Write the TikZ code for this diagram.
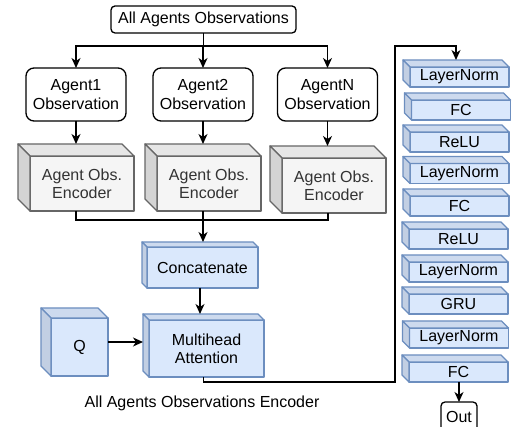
\documentclass[tikz,border=0pt]{standalone}
\usepackage{fontspec}
\setmainfont{Liberation Sans}
\usetikzlibrary{arrows.meta}

\definecolor{greyfill}{HTML}{F5F5F5}
\definecolor{greytop}{HTML}{E6E6E6}
\definecolor{greyside}{HTML}{D4D4D4}
\definecolor{greyline}{HTML}{666666}
\definecolor{greytext}{HTML}{333333}
\definecolor{bluefill}{HTML}{DAE8FC}
\definecolor{bluetop}{HTML}{CDDAEE}
\definecolor{blueside}{HTML}{C2CFE3}
\definecolor{blueline}{HTML}{6C8EBF}

\tikzset{
  every node/.style={font=\fontsize{16}{18.4}\selectfont, align=center,
    inner sep=0pt, outer sep=0pt},
  facewire/.style={line width=1.3pt, line join=round},
  obsbox/.style={draw=black, line width=1.3pt, rounded corners=8pt,
    minimum width=100pt, minimum height=53pt},
  encface/.style={draw=greyline, fill=greyfill, text=greytext, facewire,
    minimum width=104pt, minimum height=55pt},
  blueface/.style={draw=blueline, fill=bluefill, facewire},
  layerbox/.style={blueface, minimum width=99pt, minimum height=20pt},
  wire/.style={line width=1.3pt},
  arr/.style={wire, -{Stealth[length=10pt,width=9pt,inset=3pt]}}
}

% top and left faces of a box whose front face is node #1, depth #2
\newcommand\cubeside[5]{%
  \filldraw[fill=#3, draw=#5, facewire] (#1.north west) -- ++(-#2,-#2)
    -- ([shift={(-#2,-#2)}]#1.north east) -- (#1.north east) -- cycle;
  \filldraw[fill=#4, draw=#5, facewire] (#1.north west) -- ++(-#2,-#2)
    -- ([shift={(-#2,-#2)}]#1.south west) -- (#1.south west) -- cycle;
  \coordinate (#1-top) at ([shift={(-#2/2,-#2)}]#1.north);
  \coordinate (#1-bottom) at ([shift={(-#2/2,0)}]#1.south);
  \coordinate (#1-left) at ([shift={(-#2,-#2/2)}]#1.west);
  \coordinate (#1-right) at ([shift={(0,-#2/2)}]#1.east);
}
\newcommand\greycube[2]{\cubeside{#1}{#2}{greytop}{greyside}{greyline}}
\newcommand\bluecube[2]{\cubeside{#1}{#2}{bluetop}{blueside}{blueline}}

\begin{document}
\begin{tikzpicture}[x=1pt, y=-1pt]
\useasboundingbox (0,0) rectangle (514,427);
\clip (0,0) rectangle (514,427);

% observation inputs
\node[draw=black, line width=1.3pt, rounded corners=4pt,
  minimum width=185pt, minimum height=27pt] (all) at (203.5,19.5)
  {All Agents Observations};
\node[obsbox] (a1) at (76,94.5) {Agent1\\Observation};
\node[obsbox] (a2) at (203,94.5) {Agent2\\Observation};
\node[obsbox] (aN) at (327.5,94.5) {AgentN\\Observation};

% per-agent encoders
\node[encface] (enc1) at (82,183.5) {Agent Obs.\\Encoder};
\greycube{enc1}{12}
\node[encface] (enc2) at (209,183.5) {Agent Obs.\\Encoder};
\greycube{enc2}{12}
\node[encface] (encN) at (334,185.5) {Agent Obs.\\Encoder};
\greycube{encN}{12}

% attention block
\node[blueface, minimum width=111pt, minimum height=41pt] (concat)
  at (202.5,267.5) {Concatenate};
\bluecube{concat}{5}
\node[blueface, minimum width=115pt, minimum height=57pt] (mha)
  at (206.5,348.5) {Multihead\\Attention};
\bluecube{mha}{6}
\node[blueface, minimum width=57pt, minimum height=58pt] (qbox)
  at (79.5,347) {Q};
\bluecube{qbox}{10}

\node (caption) at (202,403) {All Agents Observations Encoder};

% recurrent head
\node[layerbox] (ln1) at (459.5,77) {LayerNorm};    \bluecube{ln1}{7}
\node[layerbox] (fc1) at (461,110) {FC};            \bluecube{fc1}{7}
\node[layerbox] (relu1) at (459.5,142) {ReLU};      \bluecube{relu1}{7}
\node[layerbox] (ln2) at (459.5,173.5) {LayerNorm}; \bluecube{ln2}{7}
\node[layerbox] (fc2) at (459.5,206) {FC};          \bluecube{fc2}{7}
\node[layerbox] (relu2) at (458.5,239) {ReLU};      \bluecube{relu2}{7}
\node[layerbox] (ln3) at (458.5,272) {LayerNorm};   \bluecube{ln3}{7}
\node[layerbox] (gru) at (458.5,304) {GRU};         \bluecube{gru}{7}
\node[layerbox] (ln4) at (459,338) {LayerNorm};     \bluecube{ln4}{7}
\node[layerbox] (fc3) at (458.5,372) {FC};          \bluecube{fc3}{7}

\node[draw=black, line width=1.3pt, rounded corners=4pt,
  minimum width=36pt, minimum height=30pt] (out) at (459,417) {Out};

% connectors: fan-out of observations
\coordinate (split) at ([yshift=-13pt]all.south);
\draw[wire] (all.south) -- (split);
\draw[arr] (split) -| (a1.north);
\draw[arr] (split) -| (aN.north);
\draw[arr] (split) -- (split -| a2.north) -- (a2.north);

\draw[arr] (a1.south) -- (a1.south |- enc1-top);
\draw[arr] (a2.south) -- (a2.south |- enc2-top);
\draw[arr] (aN.south) -- (aN.south |- encN-top);

% merge of encoder outputs
\coordinate (merge) at ([yshift=-9pt]enc2-bottom);
\draw[wire] (enc1-bottom) |- (merge);
\draw[wire] (encN-bottom |- encN.south) |- (merge);
\draw[arr] (enc2-bottom) -- (enc2-bottom |- concat-top);

\draw[arr] (concat-bottom) -- (concat-bottom |- mha-top);
\draw[arr] (qbox-right) -- (qbox-right -| mha-left);

% attention output into the recurrent head
\coordinate (turnlow) at (395,382);
\coordinate (turnhigh) at (395,46);
\draw[arr] (mha-bottom) |- (turnlow) -- (turnhigh) -| (ln1-top);

\draw[arr] (out.north |- fc3.south) -- (out.north);
\end{tikzpicture}
\end{document}
